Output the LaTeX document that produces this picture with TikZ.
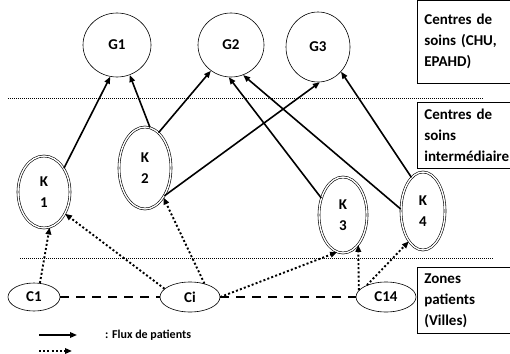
\documentclass[tikz,border=0pt]{standalone}
\usepackage{fontspec}
\setmainfont{Carlito}
\usetikzlibrary{shapes.geometric,arrows.meta}
\begin{document}
\begin{tikzpicture}[x=1pt, y=-1pt, >={Triangle[length=7pt,width=5.5pt]},
    centre/.style={ellipse, draw, line width=0.6pt, inner sep=0pt, align=center,
        font=\bfseries\fontsize{15}{21}\selectfont},
    relais/.style={centre, double, double distance=1.4pt},
    zone/.style={draw, line width=0.7pt, anchor=north west, text width=100pt,
        inner xsep=7pt, align=left, font=\bfseries\fontsize{15}{21}\selectfont},
    flux/.style={->, line width=1.6pt},
    orient/.style={->, line width=1.9pt, dash pattern=on 2pt off 2.2pt},
    lien/.style={line width=2.2pt, dash pattern=on 9pt off 7pt},
    niveau/.style={line width=0.6pt, dash pattern=on 1pt off 1pt}]
    \useasboundingbox (0,0) rectangle (510,353);
    %levels
    \draw[niveau] (8,98) -- (483,98);
    \draw[niveau] (20,258) -- (493,258);
    \node[zone, minimum height=83pt] (niv1) at (417,0) {Centres de\\soins (CHU,\\EPAHD)};
    \node[zone, minimum height=66pt] (niv2) at (417,102) {Centres de\\soins\\interm\'ediaire};
    \node[zone, minimum height=66pt] (niv3) at (417,267) {Zones\\patients\\(Villes)};
    %nodes
    \node[centre, minimum width=68pt, minimum height=64pt] (G1) at (117,45) {G1};
    \node[centre, minimum width=66pt, minimum height=64pt] (G2) at (231,45) {G2};
    \node[centre, minimum width=64pt, minimum height=70pt] (G3) at (318,47) {G3};
    \node[relais, minimum width=52pt, minimum height=72pt] (K1) at (44,192) {K\\1};
    \node[relais, minimum width=52pt, minimum height=82pt] (K2) at (145,168) {K\\2};
    \node[relais, minimum width=48pt, minimum height=76pt] (K3) at (343,215) {K\\3};
    \node[relais, minimum width=44pt, minimum height=78pt] (K4) at (423,211) {K\\4};
    \node[centre, minimum width=52pt, minimum height=28pt] (C1) at (34,297) {C1};
    \node[centre, minimum width=60pt, minimum height=30pt] (Ci) at (190,297) {Ci};
    \node[centre, minimum width=60pt, minimum height=30pt] (C14) at (386,297) {C14};
    %flux
    \path[flux]
        (K1.50) edge (G1.258)
        (K2.83) edge (G1.293)
        (K2.69) edge (G2.232)
        (K2.305) edge (G3.273)
        (K3.142) edge (G2.266)
        (K4.175) edge (G2.292)
        (K4.109) edge (G3.313);
    \path[orient]
        (C1.67) edge (K1.279)
        (Ci.162) edge (K1.314)
        (Ci.43) edge (K2.302)
        (Ci.east) edge (K3.261)
        (C14.166) edge (K3.297)
        (C14.148) edge (K4.245);
    \draw[lien] (C1.east) -- (Ci.west);
    \draw[lien] (Ci.east) -- (C14.west);
    %legend
    \coordinate (fa) at (39,335);
    \coordinate (fb) at (77,335);
    \coordinate (oa) at (39,351);
    \coordinate (ob) at (72,351);
    \draw[flux] (fa) -- (fb);
    \draw[orient] (oa) -- (ob);
    \node[anchor=west, inner sep=0pt, font=\bfseries\fontsize{12}{14}\selectfont] (leg) at (105,335) {: Flux de patients};
\end{tikzpicture}
\end{document}
